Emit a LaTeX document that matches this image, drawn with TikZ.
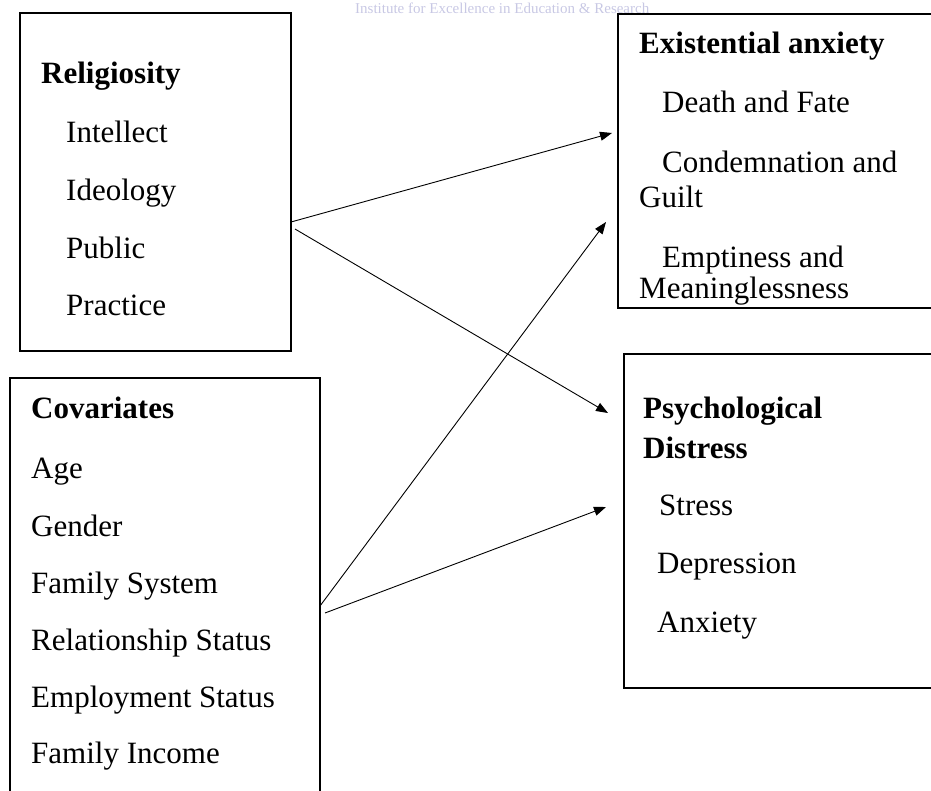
\documentclass[tikz,border=0pt]{standalone}
\usepackage{fontspec}
\setmainfont{Liberation Serif}
\usetikzlibrary{arrows.meta}
\definecolor{wmcol}{RGB}{200,200,228}
\begin{document}
\begin{tikzpicture}[x=1pt,y=-1pt,
  box/.style={draw=black, line width=1.6pt, rectangle, anchor=north west, inner sep=0pt},
  txt/.style={anchor=base west, inner sep=0pt, font=\fontsize{31}{37}\selectfont},
  hd/.style={anchor=base west, inner sep=0pt, font=\fontsize{31}{37}\selectfont\bfseries},
  link/.style={line width=0.9pt, -{Triangle[length=12pt,width=9pt]}},
  wm/.style={anchor=base west, inner sep=0pt, text=wmcol, font=\fontsize{15}{18}\selectfont}]
\useasboundingbox (0,0) rectangle (931,790);
\clip (0,0) rectangle (931,790);
% watermark
\node[wm] (wmark) at (355,13) {Institute for Excellence in Education \& Research};
% boxes
\node[box, minimum width=271pt, minimum height=338pt] (relbox) at (19,12) {};
\node[box, minimum width=330pt, minimum height=294pt] (exbox) at (617,13) {};
\node[box, minimum width=330pt, minimum height=334pt] (psbox) at (623,353) {};
\node[box, minimum width=310pt, minimum height=450pt] (covbox) at (9,377) {};
% Religiosity
\node[hd]  (rel)  at (41,83)  {Religiosity};
\node[txt] (rel1) at (66,142) {Intellect};
\node[txt] (rel2) at (66,200) {Ideology};
\node[txt] (rel3) at (66,258) {Public};
\node[txt] (rel4) at (66,315) {Practice};
% Existential anxiety
\node[hd]  (ex)   at (639,53)  {Existential anxiety};
\node[txt] (ex1)  at (662,112) {Death and Fate};
\node[txt] (ex2)  at (662,172) {Condemnation and};
\node[txt] (ex2b) at (639,207) {Guilt};
\node[txt] (ex3)  at (662,267) {Emptiness and};
\node[txt] (ex3b) at (639,298) {Meaninglessness};
% Psychological distress
\node[hd]  (ps)   at (643,418) {Psychological};
\node[hd]  (psb)  at (643,458) {Distress};
\node[txt] (ps1)  at (659,515) {Stress};
\node[txt] (ps2)  at (657,573) {Depression};
\node[txt] (ps3)  at (657,632) {Anxiety};
% Covariates
\node[hd]  (cov)  at (31,418) {Covariates};
\node[txt] (cov1) at (31,478) {Age};
\node[txt] (cov2) at (31,536) {Gender};
\node[txt] (cov3) at (31,593) {Family System};
\node[txt] (cov4) at (31,650) {Relationship Status};
\node[txt] (cov5) at (31,707) {Employment Status};
\node[txt] (cov6) at (31,763) {Family Income};
% connector ends
\coordinate (relA) at (291,222);
\coordinate (relB) at (295,229);
\coordinate (covA) at (320,606);
\coordinate (covB) at (325,613);
\coordinate (exA)  at (612,133);
\coordinate (exB)  at (606,222);
\coordinate (psA)  at (608,413);
\coordinate (psB)  at (606,507);
\draw[link] (relA) -- (exA);
\draw[link] (relB) -- (psA);
\draw[link] (covA) -- (exB);
\draw[link] (covB) -- (psB);
\end{tikzpicture}
\end{document}
